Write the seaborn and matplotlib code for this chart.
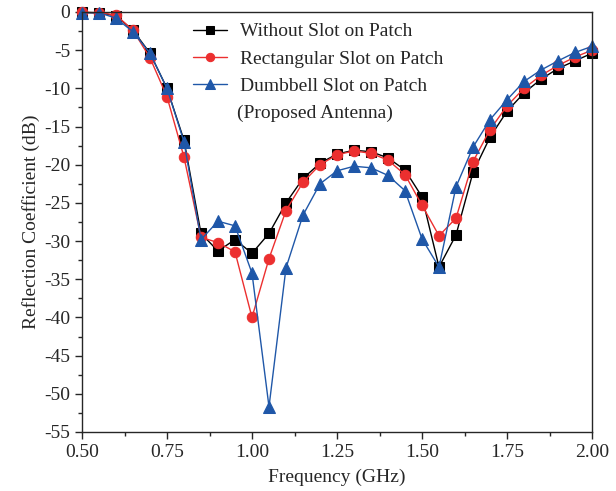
import numpy as np
import pandas as pd
import matplotlib
matplotlib.use("Agg")
import matplotlib.pyplot as plt
import seaborn as sns
from matplotlib.ticker import MultipleLocator

freq = [0.50, 0.55, 0.60, 0.65, 0.70, 0.75, 0.80, 0.85, 0.90, 0.95, 1.00,
        1.05, 1.10, 1.15, 1.20, 1.25, 1.30, 1.35, 1.40, 1.45, 1.50,
        1.55, 1.60, 1.65, 1.70, 1.75, 1.80, 1.85, 1.90, 1.95, 2.00]

without_slot = [-0.05, -0.1, -0.5, -2.4, -5.4, -10.0, -16.8, -29.0, -31.3, -29.8, -31.6,
                -29.0, -25.0, -21.8, -19.8, -18.6, -18.1, -18.3, -19.1, -20.7, -24.2,
                -33.4, -29.2, -21.0, -16.4, -13.0, -10.6, -8.8, -7.4, -6.4, -5.4]

rect_slot = [-0.05, -0.1, -0.4, -2.4, -6.0, -11.1, -19.0, -29.5, -30.2, -31.4, -40.0,
             -32.3, -26.0, -22.3, -20.0, -18.7, -18.2, -18.5, -19.4, -21.3, -25.3,
             -29.3, -27.0, -19.6, -15.4, -12.3, -10.0, -8.3, -7.0, -5.9, -5.0]

dumbbell_slot = [-0.1, -0.1, -0.8, -2.6, -5.4, -10.0, -17.0, -29.8, -27.4, -28.0, -34.2,
                 -51.7, -33.5, -26.6, -22.5, -20.8, -20.2, -20.4, -21.4, -23.4, -29.7,
                 -33.4, -22.9, -17.7, -14.1, -11.5, -9.1, -7.6, -6.4, -5.3, -4.5]

labels = ["Without Slot on Patch", "Rectangular Slot on Patch", "Dumbbell Slot on Patch"]
colors = ["#000000", "#ec2f2f", "#1f57a8"]
markers = ["s", "o", "^"]
msizes = [6.5, 7.5, 8.5]

sns.set_style("ticks")
plt.rcParams['font.family'] = ['Liberation Serif', 'DejaVu Serif']
plt.rcParams['axes.unicode_minus'] = False

fig = plt.figure(figsize=(6.16, 4.91), dpi=100)
ax = fig.add_axes([82/616, 1-432/491, (592-82)/616, (432-12)/491])

series = [without_slot, rect_slot, dumbbell_slot]
for lab, vals, c, m, ms in zip(labels, series, colors, markers, msizes):
    df = pd.DataFrame({"Frequency": freq, "S11": vals})
    sns.lineplot(data=df, x="Frequency", y="S11", ax=ax, color=c, marker=m,
                 markersize=ms, markeredgecolor=c, linewidth=1.0, label=lab,
                 clip_on=False)

ax.set_xlim(0.5, 2.0)
ax.set_ylim(-55, 0)
ax.xaxis.set_major_locator(MultipleLocator(0.25))
ax.xaxis.set_minor_locator(MultipleLocator(0.125))
ax.yaxis.set_major_locator(MultipleLocator(5))
ax.yaxis.set_minor_locator(MultipleLocator(2.5))
ax.set_xticklabels([f"{v:.2f}" for v in ax.get_xticks()])
ax.tick_params(axis='both', which='major', direction='out', length=5, width=1.0,
               labelsize=14, top=False, right=False)
ax.tick_params(axis='both', which='minor', direction='out', length=3, width=1.0,
               top=False, right=False)
for s in ax.spines.values():
    s.set_linewidth(1.0)
    s.set_visible(True)

ax.set_xlabel("Frequency (GHz)", fontsize=14, labelpad=6)
ax.set_ylabel("Reflection Coefficient (dB)", fontsize=14, labelpad=3)

leg = ax.legend(loc="upper left", bbox_to_anchor=(0.2025, 0.993), frameon=False,
                fontsize=14, handlelength=1.75, handletextpad=0.65,
                labelspacing=0.5, markerscale=0.8, borderaxespad=0.0)
ax.text(0.304, 0.7595, "(Proposed Antenna)", transform=ax.transAxes,
        fontsize=14, ha="left", va="center")

fig.savefig("out.png", dpi=100)
